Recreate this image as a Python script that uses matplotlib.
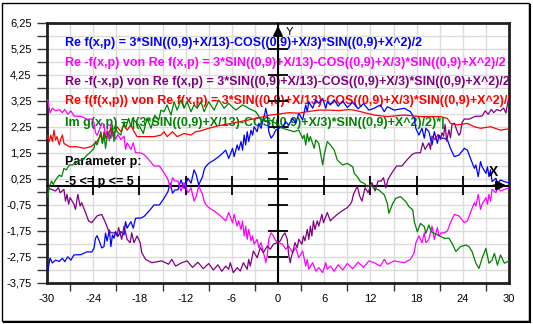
##################################
# Importing necessary modules

import matplotlib.pyplot as plt
from matplotlib.patches import Rectangle
from matplotlib.lines import Line2D

##################################
# Data

# Re f(x,p) (blue)
blue_x = [-29.9, -29.6, -29.3, -28.9, -28.4, -28.0, -27.7, -27.3, -26.9, -26.5,
          -25.6, -24.8, -24.2, -23.9, -23.7, -23.5, -23.2, -22.9, -22.6, -22.4,
          -22.2, -21.9, -21.7, -21.5, -21.3, -21.1, -20.8, -20.4, -20.0, -19.8,
          -19.6, -19.1, -18.8, -18.5, -17.8, -17.4, -16.8, -16.1, -15.4, -14.8,
          -14.3, -14.0, -13.7, -13.4, -13.0, -12.6, -12.2, -12.0, -11.7, -11.3,
          -10.9, -10.6, -10.3, -9.8, -9.6, -9.4, -9.0, -8.3, -7.7, -7.2,
          -6.8, -6.4, -5.9, -5.7, -5.3, -5.1, -4.8, -4.6, -4.4, -4.2,
          -4.0, -3.8, -3.5, -3.3, -3.1, -2.7, -2.5, -2.2, -1.9, -1.7,
          -1.6, -1.4, -1.2, -0.9, -0.6, -0.3, 0.1, 0.6, 1.0, 1.4,
          1.9, 2.3, 2.7, 3.2, 3.6, 3.8, 4.0, 4.5, 4.9, 5.3,
          5.8, 6.2, 6.4, 6.8, 7.3, 7.8, 8.4, 9.0, 9.7, 10.4,
          11.1, 11.8, 12.5, 13.3, 13.8, 14.2, 15.1, 16.4, 17.2, 17.7,
          17.9, 18.3, 18.7, 19.0, 19.2, 19.6, 20.0, 20.3, 20.7, 20.9,
          21.2, 21.6, 22.0, 22.4, 22.9, 23.5, 24.2, 24.6, 25.0, 25.5,
          25.7, 26.0, 26.3, 26.5, 27.0, 27.2, 27.4, 27.6, 27.8, 28.3,
          28.5, 28.9, 29.4, 30.0]
blue_y = [-3.29, -2.79, -2.98, -2.87, -2.92, -2.80, -2.93, -2.74, -2.87, -2.67,
          -2.66, -2.55, -2.56, -2.42, -2.03, -1.93, -2.14, -2.40, -2.35, -1.83,
          -2.14, -1.71, -2.35, -1.90, -2.03, -1.77, -1.96, -1.77, -1.90, -1.39,
          -1.64, -1.39, -1.64, -1.26, -1.25, -1.19, -1.00, -0.75, -0.75, -0.49,
          -0.24, 0.09, -0.30, -0.17, -0.17, 0.21, -0.11, 0.02, 0.28, 0.09,
          0.60, 0.40, 0.02, 0.34, 0.60, 0.72, 0.85, 0.98, 1.11, 1.24,
          1.36, 1.04, 1.43, 1.11, 1.56, 1.36, 1.69, 1.36, 1.94, 1.56,
          2.07, 1.69, 2.13, 1.94, 2.26, 2.07, 2.39, 2.20, 2.58, 2.78,
          2.97, 2.71, 2.07, 1.82, 1.94, 2.13, 2.20, 2.26, 2.45, 2.33,
          2.58, 2.39, 2.78, 2.52, 3.10, 2.84, 3.22, 2.97, 3.29, 3.16,
          3.35, 2.97, 3.22, 3.10, 3.30, 3.05, 3.25, 3.00, 3.20, 2.95,
          3.15, 2.90, 2.97, 3.10, 2.84, 3.03, 2.90, 2.97, 2.84, 2.58,
          2.20, 1.94, 2.20, 1.82, 2.20, 2.07, 1.56, 2.07, 1.62, 1.94,
          1.82, 1.82, 1.75, 1.43, 1.11, 1.17, 1.43, 1.36, 1.04, 0.66,
          0.79, 0.34, 0.92, 0.72, 0.47, 0.72, 0.34, 0.60, 0.15, 0.28,
          0.08, 0.21, 0.15, 0.10]

# Re -f(x,p) (magenta), same x positions as blue
magenta_y = [3.29, 2.79, 2.98, 2.87, 2.92, 2.80, 2.93, 2.74, 2.87, 2.67,
             2.66, 2.55, 2.56, 2.42, 2.03, 1.93, 2.14, 2.40, 2.35, 1.83,
             2.14, 1.71, 2.35, 1.90, 2.03, 1.77, 1.96, 1.77, 1.90, 1.39,
             1.64, 1.39, 1.64, 1.26, 1.25, 1.19, 1.00, 0.75, 0.75, 0.49,
             0.24, -0.09, 0.30, 0.17, 0.17, -0.21, 0.11, -0.02, -0.28, -0.09,
             -0.60, -0.40, -0.02, -0.34, -0.60, -0.72, -0.85, -0.98, -1.11, -1.24,
             -1.36, -1.04, -1.43, -1.11, -1.56, -1.36, -1.69, -1.36, -1.94, -1.56,
             -2.07, -1.69, -2.13, -1.94, -2.26, -2.07, -2.39, -2.20, -2.58, -2.78,
             -2.97, -2.71, -2.07, -1.82, -1.94, -2.13, -2.20, -2.26, -2.45, -2.33,
             -2.58, -2.39, -2.78, -2.52, -3.10, -2.84, -3.22, -2.97, -3.29, -3.16,
             -3.35, -2.97, -3.22, -3.10, -3.30, -3.05, -3.25, -3.00, -3.20, -2.95,
             -3.15, -2.90, -2.97, -3.10, -2.84, -3.03, -2.90, -2.97, -2.84, -2.58,
             -2.20, -1.94, -2.20, -1.82, -2.20, -2.07, -1.56, -2.07, -1.62, -1.94,
             -1.82, -1.82, -1.75, -1.43, -1.11, -1.17, -1.43, -1.36, -1.04, -0.66,
             -0.79, -0.34, -0.92, -0.72, -0.47, -0.72, -0.34, -0.60, -0.15, -0.28,
             -0.08, -0.21, -0.15, -0.10]

# Re -f(-x,p) (purple)
purple_x = [-30.0, -29.4, -28.9, -28.5, -28.3, -27.8, -27.6, -27.4, -27.2, -27.0,
            -26.5, -26.3, -26.0, -25.7, -25.5, -25.0, -24.6, -24.2, -23.5, -22.9,
            -22.4, -22.0, -21.6, -21.2, -20.9, -20.7, -20.3, -20.0, -19.6, -19.2,
            -19.0, -18.7, -18.3, -17.9, -17.7, -17.2, -16.4, -15.1, -14.2, -13.8,
            -13.3, -12.5, -11.8, -11.1, -10.4, -9.7, -9.0, -8.4, -7.8, -7.3,
            -6.8, -6.4, -6.2, -5.8, -5.3, -4.9, -4.5, -4.0, -3.8, -3.6,
            -3.2, -2.7, -2.3, -1.9, -1.4, -1.0, -0.6, -0.1, 0.3, 0.6,
            0.9, 1.2, 1.4, 1.6, 1.7, 1.9, 2.2, 2.5, 2.7, 3.1,
            3.3, 3.5, 3.8, 4.0, 4.2, 4.4, 4.6, 4.8, 5.1, 5.3,
            5.7, 5.9, 6.4, 6.8, 7.2, 7.7, 8.3, 9.0, 9.4, 9.6,
            9.8, 10.3, 10.6, 10.9, 11.3, 11.7, 12.0, 12.2, 12.6, 13.0,
            13.4, 13.7, 14.0, 14.3, 14.8, 15.4, 16.1, 16.8, 17.4, 17.8,
            18.5, 18.8, 19.1, 19.6, 19.8, 20.0, 20.4, 20.8, 21.1, 21.3,
            21.5, 21.7, 21.9, 22.2, 22.4, 22.6, 22.9, 23.2, 23.5, 23.7,
            23.9, 24.2, 24.8, 25.6, 26.5, 26.9, 27.3, 27.7, 28.0, 28.4,
            28.9, 29.3, 29.6, 29.9]
purple_y = [-0.10, -0.15, -0.21, -0.08, -0.28, -0.15, -0.60, -0.34, -0.72, -0.47,
            -0.72, -0.92, -0.34, -0.79, -0.66, -1.04, -1.36, -1.43, -1.17, -1.11,
            -1.43, -1.75, -1.82, -1.82, -1.94, -1.62, -2.07, -1.56, -2.07, -2.20,
            -1.82, -2.20, -1.94, -2.20, -2.58, -2.84, -2.97, -2.90, -3.03, -2.84,
            -3.10, -2.97, -2.90, -3.15, -2.95, -3.20, -3.00, -3.25, -3.05, -3.30,
            -3.10, -3.22, -2.97, -3.35, -3.16, -3.29, -2.97, -3.22, -2.84, -3.10,
            -2.52, -2.78, -2.39, -2.58, -2.33, -2.45, -2.26, -2.20, -2.13, -1.94,
            -1.82, -2.07, -2.71, -2.97, -2.78, -2.58, -2.20, -2.39, -2.07, -2.26,
            -1.94, -2.13, -1.69, -2.07, -1.56, -1.94, -1.36, -1.69, -1.36, -1.56,
            -1.11, -1.43, -1.04, -1.36, -1.24, -1.11, -0.98, -0.85, -0.72, -0.60,
            -0.34, -0.02, -0.40, -0.60, -0.09, -0.28, -0.02, 0.11, -0.21, 0.17,
            0.17, 0.30, -0.09, 0.24, 0.49, 0.75, 0.75, 1.00, 1.19, 1.25,
            1.26, 1.64, 1.39, 1.64, 1.39, 1.90, 1.77, 1.96, 1.77, 2.03,
            1.90, 2.35, 1.71, 2.14, 1.83, 2.35, 2.40, 2.14, 1.93, 2.03,
            2.42, 2.56, 2.55, 2.66, 2.67, 2.87, 2.74, 2.93, 2.80, 2.92,
            2.87, 2.98, 2.79, 3.29]

# Re f(f(x,p)) (red)
red_x = [-30.0, -29.7, -29.5, -29.3, -29.1, -28.9, -28.7, -28.4, -28.2, -28.0,
         -27.8, -27.1, -26.1, -25.2, -24.3, -23.5, -23.0, -22.8, -22.6, -22.3,
         -21.7, -21.3, -20.9, -20.4, -20.0, -19.6, -19.1, -18.7, -18.3, -17.4,
         -16.1, -15.2, -14.8, -14.4, -13.7, -13.1, -12.2, -11.3, -10.7, -10.1,
         -9.0, -7.7, -5.9, -4.2, -2.5, -1.2, 0.1, 1.4, 2.7, 4.0,
         5.3, 6.6, 7.9, 9.2, 9.9, 12.5, 14.2, 16.4, 18.5, 21.1,
         22.0, 22.4, 23.3, 24.6, 25.5, 26.3, 27.6, 28.9, 30.0]
red_y = [1.94, 1.69, 1.94, 1.69, 2.13, 1.75, 1.88, 1.56, 1.81, 1.94,
         1.62, 1.49, 1.49, 1.43, 1.49, 1.69, 1.94, 1.62, 2.07, 1.81,
         2.20, 1.94, 2.26, 2.07, 2.33, 2.13, 2.33, 2.07, 1.88, 1.88,
         1.88, 1.94, 2.07, 1.88, 2.07, 1.88, 2.00, 1.94, 2.07, 2.10,
         2.20, 2.30, 2.40, 2.50, 2.60, 2.70, 2.75, 2.80, 2.78, 2.85,
         2.90, 2.90, 2.88, 2.92, 2.90, 2.71, 2.65, 2.71, 2.65, 2.65,
         2.58, 2.39, 2.33, 2.39, 2.26, 2.20, 2.26, 2.13, 2.18]

# Im g(x,p) (green)
green_x = [-29.9, -29.7, -29.4, -29.2, -28.9, -28.4, -28.1, -27.8, -27.5, -27.1,
           -26.7, -26.1, -25.6, -25.2, -24.8, -24.3, -23.9, -23.7, -23.5, -23.3,
           -23.0, -22.8, -22.6, -22.4, -22.1, -21.7, -21.5, -21.3, -21.1, -20.9,
           -20.4, -20.0, -19.8, -19.4, -19.1, -18.9, -18.5, -18.0, -17.5, -17.0,
           -16.5, -16.0, -15.5, -15.2, -14.8, -14.4, -13.9, -13.5, -13.1, -12.6,
           -12.2, -11.8, -11.3, -10.9, -10.5, -10.0, -9.6, -9.0, -8.3, -7.7,
           -7.0, -6.4, -5.5, -4.6, -3.8, -2.9, -2.3, -1.6, -1.0, -0.3,
           0.6, 1.4, 2.1, 2.7, 3.2, 3.4, 3.6, 3.8, 4.0, 4.2,
           4.7, 4.9, 5.3, 5.8, 6.0, 6.4, 6.8, 7.3, 7.7, 8.4,
           9.0, 9.7, 9.9, 10.3, 10.7, 11.2, 11.6, 12.0, 12.5, 13.1,
           13.8, 14.2, 14.4, 14.9, 15.3, 15.9, 16.6, 17.0, 17.5, 17.7,
           18.1, 18.5, 19.0, 19.2, 19.6, 19.9, 20.3, 20.7, 21.6, 22.2,
           22.6, 23.1, 23.7, 24.4, 24.8, 25.2, 25.7, 26.1, 26.5, 27.0,
           27.4, 27.8, 28.1, 28.5, 28.9, 29.4, 29.8, 30.0]
green_y = [-0.43, -0.04, 0.17, 0.04, 0.21, 0.40, 0.34, 0.66, 0.60, 0.79,
           0.79, 0.92, 0.98, 1.04, 1.17, 1.30, 1.43, 1.69, 1.56, 1.75,
           2.07, 1.62, 2.00, 1.43, 2.07, 1.81, 2.33, 1.69, 2.33, 2.07,
           1.94, 2.45, 2.20, 2.58, 2.26, 2.58, 2.45, 2.30, 2.00, 2.60,
           2.20, 2.70, 2.50, 2.90, 2.84, 3.10, 2.71, 3.22, 2.90, 3.29,
           2.97, 3.22, 2.84, 3.10, 2.97, 3.22, 2.84, 3.22, 2.90, 3.29,
           2.97, 3.16, 2.90, 3.10, 2.97, 2.84, 2.58, 2.45, 2.52, 2.39,
           2.20, 2.13, 2.07, 2.13, 1.81, 1.94, 1.56, 2.00, 1.69, 1.88,
           1.43, 1.75, 1.62, 0.79, 1.17, 1.69, 1.56, 1.36, 0.98, 0.79,
           0.85, 0.72, 0.47, 0.34, 0.15, 0.08, -0.05, 0.02, -0.11, -0.17,
           -0.36, -0.69, -1.07, -0.69, -0.49, -0.43, -0.62, -0.81, -0.94, -1.39,
           -1.78, -1.46, -1.58, -1.84, -1.52, -1.78, -1.84, -1.90, -2.03, -2.03,
           -2.22, -2.54, -2.35, -2.29, -2.35, -2.54, -2.99, -3.19, -2.80, -2.42,
           -2.99, -2.87, -2.61, -3.06, -2.67, -2.99, -2.93, -2.90]

# Axis ticks and labels
x_labels = [-30, -24, -18, -12, -6, 0, 6, 12, 18, 24, 30]
x_minor = [-27, -21, -15, -9, -3, 3, 9, 15, 21, 27]
y_ticks = [6.25, 5.75, 5.25, 4.75, 4.25, 3.75, 3.25, 2.75, 2.25, 1.75, 1.25,
           0.75, 0.25, -0.25, -0.75, -1.25, -1.75, -2.25, -2.75, -3.25, -3.75]
y_labels = ['6,25', '', '5,25', '', '4,25', '', '3,25', '', '2,25', '', '1,25',
            '', '0,25', '', '-0,75', '', '-1,75', '', '-2,75', '', '-3,75']
center_xticks = [-24, -18, -12, -6, 6, 12, 18, 24]
center_yticks = [5.25, 4.25, 3.25, 2.25, 1.25, 0.25, -0.75, -1.75, -2.75]

legend_lines = [
    ('Re f(x,p) = 3*SIN((0,9)+X/13)-COS((0,9)+X/3)*SIN((0,9)+X^2)/2', '#0000ff'),
    ('Re -f(x,p) von Re f(x,p) = 3*SIN((0,9)+X/13)-COS((0,9)+X/3)*SIN((0,9)+X^2)/2', '#ff00ff'),
    ('Re -f(-x,p) von Re f(x,p) = 3*SIN((0,9)+X/13)-COS((0,9)+X/3)*SIN((0,9)+X^2)/2', '#800080'),
    ('Re f(f(x,p)) von Re f(x,p) = 3*SIN((0,9)+X/13)-COS((0,9)+X/3)*SIN((0,9)+X^2)/2', '#ff0000'),
    ('Im g(x,p) = |(3*SIN((0,9)+X/13)-COS((0,9)+X/3)*SIN((0,9)+X^2)/2)*|', '#008000'),
    ('Parameter p:', 'black'),
    ('-5 <= p <= 5', 'black'),
]
legend_ypos = [0.924, 0.847, 0.774, 0.701, 0.615, 0.467, 0.390]

##################################
# Graphing

plt.rcParams['font.family'] = ['Liberation Sans', 'DejaVu Sans']

fig = plt.figure(figsize=(5.33, 3.24), dpi=100)
ax = fig.add_axes([47 / 533, 1 - 283 / 324, 462 / 533, 260 / 324])

# Grid
for gx in range(-27, 30, 3):
    ax.axvline(gx, color='#dcdcdc', lw=1, zorder=0)
for gy in y_ticks:
    ax.axhline(gy, color='#dcdcdc', lw=1, zorder=0)

# Curves
ax.plot(blue_x, blue_y, color='#0000ff', lw=0.9, zorder=5)
ax.plot(blue_x, magenta_y, color='#ff00ff', lw=0.9, zorder=5)
ax.plot(purple_x, purple_y, color='#800080', lw=0.9, zorder=5)
ax.plot(red_x, red_y, color='#ff0000', lw=0.9, zorder=5)
ax.plot(green_x, green_y, color='#008000', lw=0.9, zorder=5)

# Centre axes with arrows and ticks
ax.axhline(0, color='black', lw=1.5, zorder=4)
ax.axvline(0, color='black', lw=1.5, zorder=4)
ax.vlines(center_xticks, -0.38, 0.38, color='black', lw=1.3, zorder=4)
ax.hlines(center_yticks, -1.35, 1.35, color='black', lw=1.3, zorder=4)
ax.annotate('', xy=(30, 0), xytext=(27.6, 0),
            arrowprops=dict(arrowstyle='-|>', color='black', lw=1.5, mutation_scale=14),
            zorder=6, annotation_clip=False)
ax.annotate('', xy=(0, 6.25), xytext=(0, 5.55),
            arrowprops=dict(arrowstyle='-|>', color='black', lw=1.5, mutation_scale=14),
            zorder=6, annotation_clip=False)
ax.text(28.0, 0.5, 'X', fontsize=10, fontweight='bold', ha='center', va='center', zorder=6)
ax.text(1.45, 5.92, 'Y', fontsize=8, ha='center', va='center', zorder=6)

# Legend text
for (txt, col), yp in zip(legend_lines, legend_ypos):
    ax.text(0.039, yp, txt, color=col, fontsize=9, fontweight='bold',
            transform=ax.transAxes, va='center', ha='left', clip_on=True, zorder=3)

# Axes limits, ticks, labels
ax.set_xlim(-30, 30)
ax.set_ylim(-3.75, 6.25)
ax.set_xticks(x_labels)
ax.set_xticklabels([str(v) for v in x_labels], fontsize=8)
ax.set_xticks(x_minor, minor=True)
ax.tick_params(axis='x', which='major', length=0, pad=8)
ax.tick_params(axis='x', which='minor', length=6, width=1, color='#333333')
ax.set_yticks(y_ticks)
ax.set_yticklabels(y_labels, fontsize=8)
ax.tick_params(axis='y', which='major', length=7, width=1, color='#333333', pad=4)

for s in ax.spines.values():
    s.set_linewidth(2)
    s.set_color('#202020')

# Outer frame
fig.patches.append(Rectangle((2 / 533, 1 - 321 / 324), 527 / 533, 318 / 324,
                             transform=fig.transFigure, fill=False, ec='black', lw=1))
fig.lines.append(Line2D([530 / 533, 530 / 533], [1 - 322 / 324, 1 - 5 / 324],
                        transform=fig.transFigure, color='black', lw=1.5))
fig.lines.append(Line2D([4 / 533, 530 / 533], [1 - 322 / 324, 1 - 322 / 324],
                        transform=fig.transFigure, color='black', lw=1.5))

plt.savefig('out.png', dpi=100)
